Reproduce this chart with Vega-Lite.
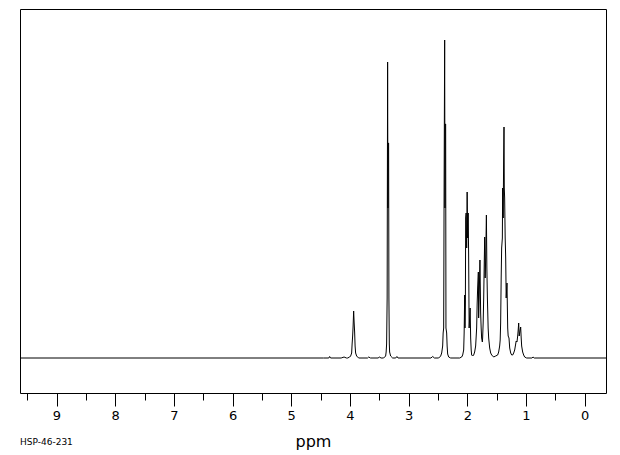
{
  "$schema": "https://vega.github.io/schema/vega-lite/v6.json",
  "autosize": {"type": "none"},
  "padding": {"left": 20, "top": 9, "right": 14, "bottom": 62},
  "width": 586,
  "height": 384,
  "background": "white",
  "config": {
    "view": {"stroke": "black", "strokeWidth": 1},
    "font": "DejaVu Sans"
  },
  "title": {
    "text": "HSP-46-231",
    "orient": "bottom",
    "anchor": "start",
    "fontSize": 9,
    "fontWeight": "normal",
    "font": "DejaVu Sans",
    "color": "black",
    "offset": -11
  },
  "data": {
    "values": [
      {"ppm": 9.622, "h": 0}, {"ppm": 4.45, "h": 0}, {"ppm": 4.36, "h": 0}, {"ppm": 4.346, "h": 1.5}, {"ppm": 4.33, "h": 0},
      {"ppm": 4.15, "h": 0}, {"ppm": 4.10, "h": 1}, {"ppm": 4.06, "h": 0},
      {"ppm": 4.039, "h": 0}, {"ppm": 4.005, "h": 1}, {"ppm": 3.988, "h": 2}, {"ppm": 3.971, "h": 5}, {"ppm": 3.963, "h": 14},
      {"ppm": 3.954, "h": 22}, {"ppm": 3.946, "h": 32}, {"ppm": 3.937, "h": 47}, {"ppm": 3.929, "h": 36}, {"ppm": 3.920, "h": 26},
      {"ppm": 3.912, "h": 12}, {"ppm": 3.903, "h": 5}, {"ppm": 3.886, "h": 2}, {"ppm": 3.852, "h": 0},
      {"ppm": 3.70, "h": 0}, {"ppm": 3.68, "h": 1}, {"ppm": 3.65, "h": 0}, {"ppm": 3.52, "h": 0}, {"ppm": 3.50, "h": 1}, {"ppm": 3.47, "h": 0},
      {"ppm": 3.426, "h": 0}, {"ppm": 3.392, "h": 2}, {"ppm": 3.383, "h": 6}, {"ppm": 3.375, "h": 14}, {"ppm": 3.366, "h": 60},
      {"ppm": 3.358, "h": 296}, {"ppm": 3.353, "h": 150}, {"ppm": 3.347, "h": 215}, {"ppm": 3.341, "h": 215}, {"ppm": 3.336, "h": 60},
      {"ppm": 3.329, "h": 14}, {"ppm": 3.324, "h": 6}, {"ppm": 3.307, "h": 2}, {"ppm": 3.272, "h": 0},
      {"ppm": 3.22, "h": 0}, {"ppm": 3.20, "h": 1.5}, {"ppm": 3.18, "h": 0},
      {"ppm": 2.62, "h": 0}, {"ppm": 2.59, "h": 1.5}, {"ppm": 2.56, "h": 0},
      {"ppm": 2.488, "h": 0}, {"ppm": 2.454, "h": 2}, {"ppm": 2.437, "h": 5}, {"ppm": 2.420, "h": 12}, {"ppm": 2.412, "h": 25},
      {"ppm": 2.403, "h": 30}, {"ppm": 2.395, "h": 178}, {"ppm": 2.386, "h": 318}, {"ppm": 2.381, "h": 150}, {"ppm": 2.376, "h": 234},
      {"ppm": 2.369, "h": 234}, {"ppm": 2.364, "h": 30}, {"ppm": 2.352, "h": 25}, {"ppm": 2.344, "h": 12}, {"ppm": 2.335, "h": 4},
      {"ppm": 2.318, "h": 1}, {"ppm": 2.284, "h": 0},
      {"ppm": 2.131, "h": 0}, {"ppm": 2.096, "h": 1}, {"ppm": 2.079, "h": 3}, {"ppm": 2.062, "h": 8}, {"ppm": 2.054, "h": 25},
      {"ppm": 2.045, "h": 63}, {"ppm": 2.040, "h": 30}, {"ppm": 2.033, "h": 55}, {"ppm": 2.028, "h": 140}, {"ppm": 2.020, "h": 145},
      {"ppm": 2.011, "h": 110}, {"ppm": 2.003, "h": 166}, {"ppm": 1.994, "h": 120}, {"ppm": 1.986, "h": 145}, {"ppm": 1.977, "h": 100},
      {"ppm": 1.969, "h": 30}, {"ppm": 1.960, "h": 40}, {"ppm": 1.952, "h": 50}, {"ppm": 1.943, "h": 20}, {"ppm": 1.934, "h": 8},
      {"ppm": 1.926, "h": 3}, {"ppm": 1.909, "h": 2}, {"ppm": 1.892, "h": 3}, {"ppm": 1.875, "h": 6}, {"ppm": 1.858, "h": 12},
      {"ppm": 1.841, "h": 30}, {"ppm": 1.832, "h": 55}, {"ppm": 1.824, "h": 70}, {"ppm": 1.812, "h": 86}, {"ppm": 1.807, "h": 40},
      {"ppm": 1.798, "h": 60}, {"ppm": 1.785, "h": 98}, {"ppm": 1.773, "h": 45}, {"ppm": 1.764, "h": 30}, {"ppm": 1.756, "h": 20},
      {"ppm": 1.744, "h": 16}, {"ppm": 1.739, "h": 20}, {"ppm": 1.730, "h": 35}, {"ppm": 1.721, "h": 60}, {"ppm": 1.713, "h": 90},
      {"ppm": 1.704, "h": 121}, {"ppm": 1.696, "h": 80}, {"ppm": 1.687, "h": 100}, {"ppm": 1.675, "h": 143}, {"ppm": 1.667, "h": 90},
      {"ppm": 1.658, "h": 60}, {"ppm": 1.645, "h": 30}, {"ppm": 1.636, "h": 20}, {"ppm": 1.619, "h": 10}, {"ppm": 1.602, "h": 5},
      {"ppm": 1.585, "h": 3}, {"ppm": 1.551, "h": 1}, {"ppm": 1.517, "h": 2}, {"ppm": 1.483, "h": 3}, {"ppm": 1.466, "h": 6},
      {"ppm": 1.449, "h": 12}, {"ppm": 1.440, "h": 18}, {"ppm": 1.432, "h": 35}, {"ppm": 1.423, "h": 80}, {"ppm": 1.415, "h": 110},
      {"ppm": 1.403, "h": 120}, {"ppm": 1.398, "h": 170}, {"ppm": 1.389, "h": 140}, {"ppm": 1.381, "h": 200}, {"ppm": 1.375, "h": 231},
      {"ppm": 1.370, "h": 170}, {"ppm": 1.364, "h": 160}, {"ppm": 1.355, "h": 120}, {"ppm": 1.346, "h": 100}, {"ppm": 1.338, "h": 60},
      {"ppm": 1.324, "h": 75}, {"ppm": 1.312, "h": 30}, {"ppm": 1.304, "h": 22}, {"ppm": 1.290, "h": 20}, {"ppm": 1.278, "h": 10},
      {"ppm": 1.261, "h": 5}, {"ppm": 1.244, "h": 3}, {"ppm": 1.227, "h": 3}, {"ppm": 1.210, "h": 5}, {"ppm": 1.193, "h": 8},
      {"ppm": 1.176, "h": 14}, {"ppm": 1.168, "h": 17}, {"ppm": 1.154, "h": 16}, {"ppm": 1.142, "h": 22}, {"ppm": 1.133, "h": 28},
      {"ppm": 1.125, "h": 35}, {"ppm": 1.116, "h": 22}, {"ppm": 1.108, "h": 25}, {"ppm": 1.091, "h": 31}, {"ppm": 1.082, "h": 20},
      {"ppm": 1.074, "h": 12}, {"ppm": 1.057, "h": 6}, {"ppm": 1.040, "h": 3}, {"ppm": 1.023, "h": 1}, {"ppm": 0.989, "h": 0},
      {"ppm": 0.90, "h": 0}, {"ppm": 0.88, "h": 1}, {"ppm": 0.86, "h": 0},
      {"ppm": -0.363, "h": 0}
    ]
  },
  "mark": {"type": "line", "color": "black", "strokeWidth": 1, "clip": true, "interpolate": "linear"},
  "encoding": {
    "x": {
      "field": "ppm",
      "type": "quantitative",
      "sort": null,
      "scale": {"domain": [-0.363, 9.622], "reverse": true, "nice": false, "zero": false},
      "axis": {
        "values": [0, 0.5, 1, 1.5, 2, 2.5, 3, 3.5, 4, 4.5, 5, 5.5, 6, 6.5, 7, 7.5, 8, 8.5, 9, 9.5],
        "labelExpr": "datum.value % 1 === 0 ? format(datum.value, 'd') : ''",
        "domain": false,
        "grid": false,
        "tickColor": "black",
        "tickWidth": 1,
        "tickSize": {"condition": {"test": "datum.value % 1 === 0", "value": 13}, "value": 7},
        "labelColor": "black",
        "labelFontSize": 13,
        "labelFont": "DejaVu Sans",
        "labelPadding": 3,
        "labelFlush": false,
        "labelOverlap": false,
        "title": "ppm",
        "titleFont": "DejaVu Sans",
        "titleFontSize": 16,
        "titleFontWeight": "normal",
        "titleColor": "black",
        "titlePadding": 11
      }
    },
    "y": {
      "field": "h",
      "type": "quantitative",
      "scale": {"domain": [-35, 349], "nice": false, "zero": false},
      "axis": null
    }
  }
}
